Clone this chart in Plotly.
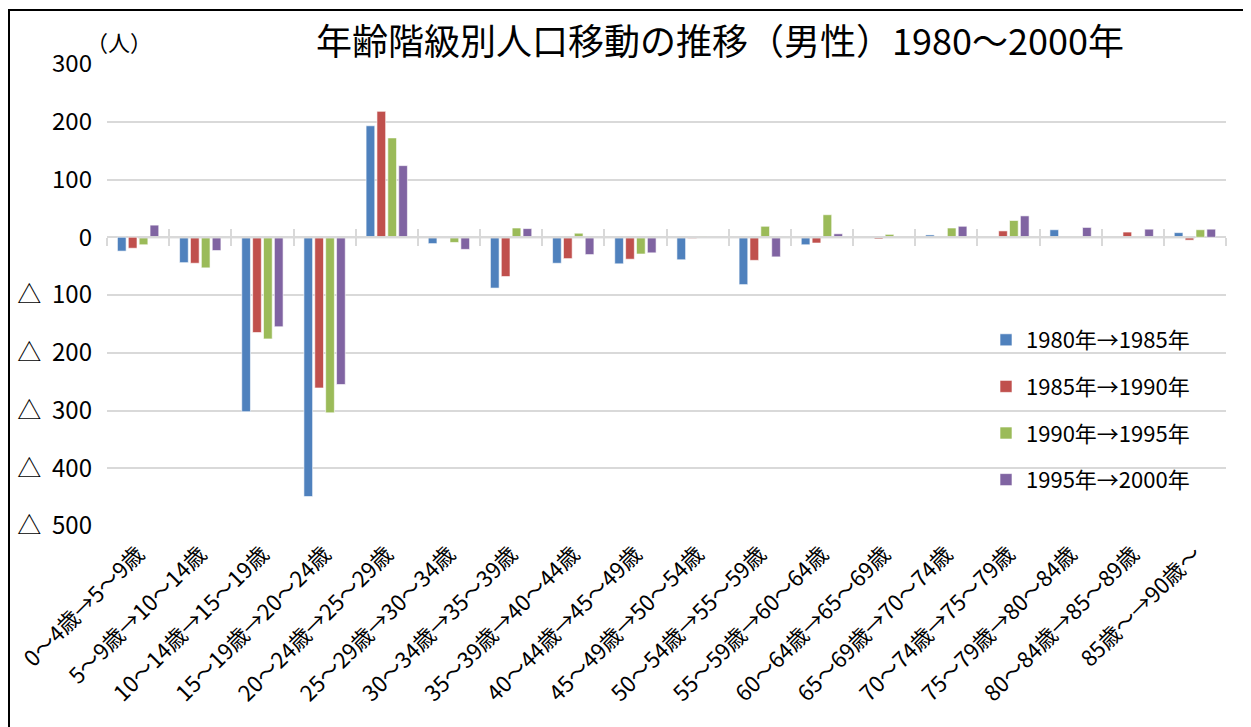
import plotly.graph_objects as go

# 年齢階級（移動前→移動後）
categories = [
    "0～4歳→5～9歳", "5～9歳→10～14歳", "10～14歳→15～19歳", "15～19歳→20～24歳",
    "20～24歳→25～29歳", "25～29歳→30～34歳", "30～34歳→35～39歳", "35～39歳→40～44歳",
    "40～44歳→45～49歳", "45～49歳→50～54歳", "50～54歳→55～59歳", "55～59歳→60～64歳",
    "60～64歳→65～69歳", "65～69歳→70～74歳", "70～74歳→75～79歳", "75～79歳→80～84歳",
    "80～84歳→85～89歳", "85歳～→90歳～",
]

series_names = ["1980年→1985年", "1985年→1990年", "1990年→1995年", "1995年→2000年"]

v_1980_1985 = [-24, -44, -302, -449, 193, -11, -88, -45, -46, -39, -82, -13, 0, 4, 1, 13, 0, 8]
v_1985_1990 = [-19, -45, -165, -261, 218, 0, -68, -37, -38, -2, -40, -10, -3, 0, 11, 0, 9, -5]
v_1990_1995 = [-13, -53, -176, -304, 172, -9, 16, 7, -29, 2, 19, 39, 5, 16, 29, 1, 1, 13]
v_1995_2000 = [21, -23, -155, -255, 124, -21, 15, -30, -27, 0, -34, 6, 0, 19, 37, 17, 14, 14]

series_values = [v_1980_1985, v_1985_1990, v_1990_1995, v_1995_2000]
colors = ["#4F81BD", "#C0504D", "#9BBB59", "#8064A2"]

y_ticks = [300, 200, 100, 0, -100, -200, -300, -400, -500]
y_ticktext = ["300", "200", "100", "0", "△  100", "△  200", "△  300", "△  400", "△  500"]

FONT = "Liberation Sans Narrow, Noto Sans CJK JP, sans-serif"
OFF = 8  # page body margin
W, H = 1251 - OFF, 727 - OFF
L, T = 107 - OFF, 64 - OFF
R = W - (1226 - OFF)
B = H - (526 - OFF)
pw, ph = W - L - R, H - T - B


def px_x(x):
    return (x - OFF - L) / pw


def px_y(y):
    return (H - B - (y - OFF)) / ph


fig = go.Figure()

for name, vals, col in zip(series_names, series_values, colors):
    fig.add_trace(go.Bar(
        x=categories,
        y=vals,
        name=name,
        legendgroup=name,
        marker=dict(color=col, line=dict(color="rgba(255,255,255,0.6)", width=1)),
    ))

# axis line with tick marks crossing at y = 0
zero_pos = (0 - min(y_ticks)) / (max(y_ticks) - min(y_ticks))
axis_common = dict(
    overlaying="x", anchor="free", position=zero_pos, type="category",
    categoryarray=categories, categoryorder="array", range=[-0.5, len(categories) - 0.5],
    tickson="boundaries", ticklen=8, tickwidth=2, tickcolor="#D9D9D9",
    showticklabels=False, showgrid=False, showline=False, zeroline=False,
)
fig.update_layout(
    xaxis2=dict(ticks="outside", **axis_common),
    xaxis3=dict(ticks="inside", **axis_common),
)
for ax in ["x2", "x3"]:
    fig.add_trace(go.Scatter(x=categories, y=[0] * len(categories), xaxis=ax, mode="lines",
                             line=dict(color="#D9D9D9", width=2), showlegend=False,
                             hoverinfo="skip"))

fig.update_layout(
    width=W, height=H,
    margin=dict(l=L, r=R, t=T, b=B),
    paper_bgcolor="white",
    plot_bgcolor="white",
    barmode="group",
    bargap=0.3,
    bargroupgap=0.2,
    font=dict(family=FONT, color="black"),
    title=dict(
        text="年齢階級別人口移動の推移（男性）1980～2000年",
        x=px_x(720), xref="paper", xanchor="center",
        y=1 - (42 - OFF) / H, yanchor="middle",
        font=dict(family="Noto Sans CJK JP, sans-serif", size=36, color="black"),
    ),
    xaxis=dict(
        type="category",
        tickangle=-45,
        tickfont=dict(size=22, family=FONT),
        ticklabelstandoff=10,
        showgrid=False, ticks="", showline=False,
        range=[-0.5, len(categories) - 0.5],
        automargin=False,
    ),
    yaxis=dict(
        range=[-500, 300],
        tickvals=y_ticks,
        ticktext=y_ticktext,
        tickfont=dict(size=24, family=FONT),
        ticklabelstandoff=14,
        showgrid=True, gridcolor="#D9D9D9", gridwidth=2,
        zeroline=False, showline=False, ticks="",
        automargin=False,
    ),
    legend=dict(
        x=px_x(986), y=px_y(319),
        xanchor="left", yanchor="top",
        bgcolor="rgba(0,0,0,0)",
        font=dict(size=22, family=FONT),
        tracegroupgap=15,
        itemwidth=30,
    ),
    showlegend=True,
    annotations=[dict(
        text="（人）", xref="paper", yref="paper",
        x=px_x(84), y=px_y(41), xanchor="left", yanchor="middle",
        showarrow=False, font=dict(size=22, family="Noto Sans CJK JP, sans-serif"),
    )],
    shapes=[dict(
        type="rect", xref="paper", yref="paper",
        x0=px_x(9), x1=px_x(1247),
        y0=px_y(760), y1=px_y(10),
        line=dict(color="black", width=2), fillcolor="rgba(0,0,0,0)", layer="below",
    )],
)

fig.write_html("out.html")
